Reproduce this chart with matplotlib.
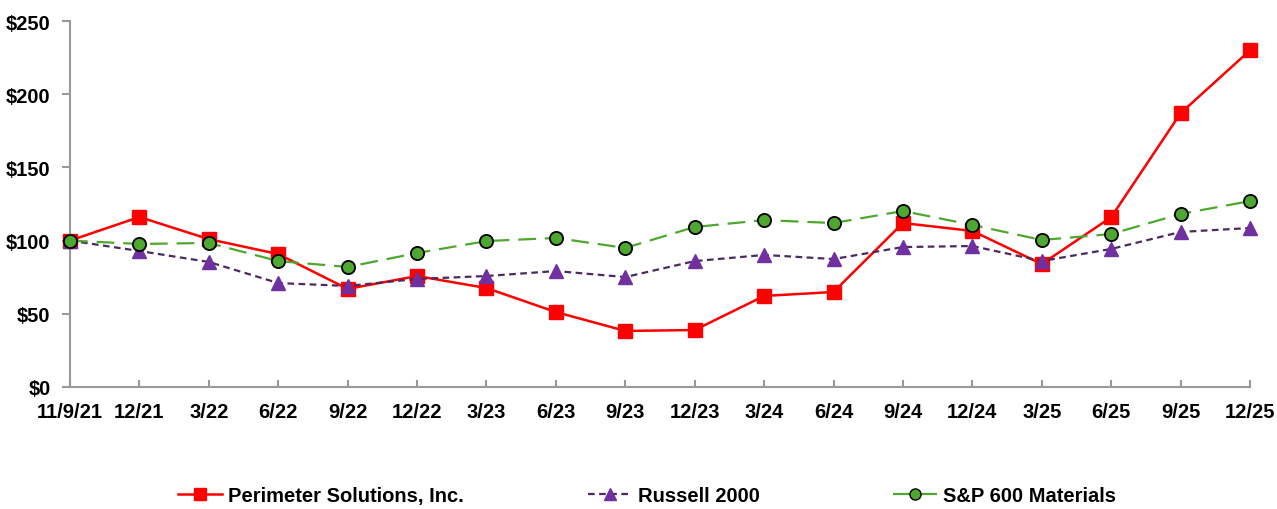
import matplotlib
matplotlib.use("Agg")
import matplotlib.pyplot as plt
from matplotlib.lines import Line2D

labels = ["11/9/21", "12/21", "3/22", "6/22", "9/22", "12/22", "3/23", "6/23", "9/23",
          "12/23", "3/24", "6/24", "9/24", "12/24", "3/25", "6/25", "9/25", "12/25"]
perimeter = [100, 116.1, 101, 90.8, 67, 75.8, 67.6, 51.2, 38.3, 38.9, 62.2, 64.9,
             112, 106.6, 84, 116, 187, 230]
russell = [100, 92.9, 85.4, 71, 69, 73.8, 75.8, 79.2, 75.1, 86, 90.2, 87.4,
           95.6, 96.3, 86, 94.3, 105.9, 108.6]
sp600 = [100, 97.7, 98.4, 86, 82, 91.5, 99.7, 101.8, 95, 109.3, 114, 112,
         120.2, 110.7, 100.4, 104.5, 118.2, 127]
yticks = [0, 50, 100, 150, 200, 250]
names = ['Perimeter Solutions, Inc.', 'Russell 2000', 'S&P 600 Materials']

plt.rcParams['font.family'] = ['Liberation Sans', 'DejaVu Sans']
plt.rcParams['font.weight'] = 'bold'
FS = 14.5

fig = plt.figure(figsize=(12.77, 5.10), dpi=100)
ax = fig.add_axes([70/1277, 1-388/510, (1250-70)/1277, (388-22)/510])

x = list(range(len(labels)))
ax.plot(x, perimeter, color='#FF0000', lw=1.8, marker='s', ms=10,
        mfc='#FF0000', mec='#FF0000', zorder=3, clip_on=False)
ax.plot(x, russell, color='#4B2A5F', lw=1.6, ls=(0, (3, 2)), marker='^', ms=10,
        mfc='#7030A0', mec='#7030A0', zorder=4, clip_on=False)
ax.plot(x, sp600, color='#4EA72E', lw=1.6, ls=(0, (8, 4)), marker='o', ms=9.5,
        mfc='#4EA72E', mec='black', mew=1.3, zorder=5, clip_on=False)

ax.set_xlim(0, len(labels)-1)
ax.set_ylim(0, 250)
ax.set_xticks(x)
ax.set_xticklabels(labels, fontsize=FS, fontweight='bold')
ax.set_yticks(yticks)
ax.set_yticklabels([f"${v}" for v in yticks], fontsize=FS, fontweight='bold')
ax.tick_params(axis='x', direction='in', length=5, color='#999999', width=1.5, pad=11)
ax.tick_params(axis='y', direction='out', length=6, color='#999999', width=1.5, pad=8)
for s in ['top', 'right']:
    ax.spines[s].set_visible(False)
for s in ['left', 'bottom']:
    ax.spines[s].set_color('#999999')
    ax.spines[s].set_linewidth(1.5)

handles = [
    Line2D([], [], color='#FF0000', lw=1.8, marker='s', ms=8, mfc='#FF0000', mec='#FF0000'),
    Line2D([], [], color='#4B2A5F', lw=1.6, ls=(0, (3, 2)), marker='^', ms=8, mfc='#7030A0', mec='#7030A0'),
    Line2D([], [], color='#4EA72E', lw=1.6, ls=(0, (8, 4)), marker='o', ms=8, mfc='#4EA72E', mec='black'),
]
lefts = [178, 588, 893]
for h, n, lx in zip(handles, names, lefts):
    lg = fig.legend([h], [n], loc='center left', bbox_to_anchor=(lx/1277, 1-497/510),
                    frameon=False, handlelength=2.2, handletextpad=0.3,
                    borderpad=0, borderaxespad=0, prop={'weight': 'bold', 'size': FS})

fig.savefig('out.png', dpi=100)
